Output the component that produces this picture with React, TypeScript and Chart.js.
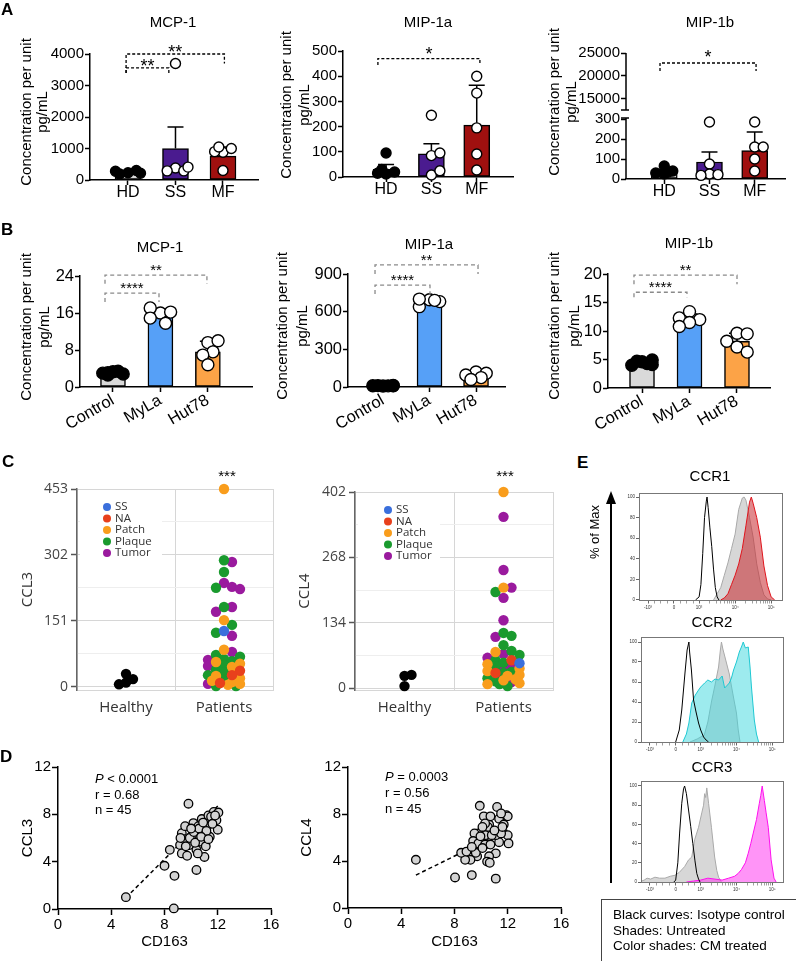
import React, { useEffect, useRef } from 'react';
import { Chart, registerables } from 'chart.js';

Chart.register(...registerables);

const ARIAL = '"Liberation Sans", Arial, Helvetica, sans-serif';
const OPEN = '"Open Sans", "Noto Sans", sans-serif';
Chart.defaults.font.family = ARIAL;
Chart.defaults.color = '#000';

// ================= DATA =================
// Panel A
const A_CATS = ['HD', 'SS', 'MF'];
const A_MCP1_HD = [230, 300, 190, 280, 215];
const A_MCP1_SS = [380, 290, 3700, 290, 410];
const A_MCP1_MF = [880, 1000, 300, 900, 1050];
const A_MCP1_MEAN = [245, 1000, 760];
const A_MCP1_SD = [45, 680, 290];
const A_MIP1A_HD = [12, 20, 95, 15, 30];
const A_MIP1A_SS = [85, 8, 245, 25, 95];
const A_MIP1A_MF = [400, 333, 195, 91, 28];
const A_MIP1A_MEAN = [30, 92, 206];
const A_MIP1A_SD = [20, 40, 158];
const A_MIP1B_HD = [65, 40, 30, 25, 35];
const A_MIP1B_SS = [285, 75, 25, 22, 18];
const A_MIP1B_MF = [285, 160, 160, 100, 40];
const A_MIP1B_MEAN = [35, 85, 142];
const A_MIP1B_SD = [12, 50, 93];
const A_MCP1_SIG = [
  { from: 0.96, to: 3.03, y: 4000, dropL: 3400, dropR: 3700, label: '**' },
  { from: 0.96, to: 1.86, y: 3560, dropL: 3400, dropR: 3400, label: '**' },
];
const A_MIP1A_SIG = [{ from: 0.82, to: 3.07, y: 470, dropL: 444, dropR: 444, label: '*' }];
const A_MIP1B_SIG = [{ from: 0.906, to: 3.03, y: 22830, dropL: 21087, dropR: 21087, label: '*' }];

// Panel B
const B_CATS = ['Control', 'MyLa', 'Hut78'];
const B_MCP1_CTRL = [3.3, 2.8, 3.0, 3.4, 2.6, 3.1];
const B_MCP1_MYLA = [16.0, 16.2, 17.1, 14.9, 13.8];
const B_MCP1_HUT = [9.6, 10.0, 7.6, 6.9, 4.8];
const B_MCP1_MEAN = [3.0, 15.6, 7.6];
const B_MCP1_SD = [0.3, 1.3, 2.3];
const B_MIP1A_CTRL = [8, 12, 10, 9, 11, 10];
const B_MIP1A_MYLA = [695, 680, 640, 700, 690];
const B_MIP1A_HUT = [120, 110, 95, 75, 60];
const B_MIP1A_MEAN = [10, 681, 92];
const B_MIP1A_SD = [2, 24, 24];
const B_MIP1B_CTRL = [4.6, 4.9, 4.0, 4.3, 4.7, 4.1];
const B_MIP1B_MYLA = [13.4, 12.0, 12.3, 11.5, 10.8];
const B_MIP1B_HUT = [9.6, 9.5, 8.2, 7.2, 6.3];
const B_MIP1B_MEAN = [4.4, 12.0, 8.2];
const B_MIP1B_SD = [0.3, 1.0, 1.4];
const B_MCP1_SIG = [
  { from: 0.832, to: 2.98, y: 24.2, dropL: 22.3, dropR: 22.3, label: '**' },
  { from: 0.832, to: 1.97, y: 20.3, dropL: 18.4, dropR: 18.4, label: '****' },
];
const B_MIP1A_SIG = [
  { from: 0.828, to: 3.043, y: 972, dropL: 900, dropR: 900, label: '**' },
  { from: 0.828, to: 2.01, y: 812, dropL: 741, dropR: 741, label: '****' },
];
const B_MIP1B_SIG = [
  { from: 0.831, to: 3.0, y: 19.8, dropL: 18.2, dropR: 18.2, label: '**' },
  { from: 0.831, to: 1.947, y: 16.8, dropL: 15.9, dropR: 15.9, label: '****' },
];

// Panel C
const C_CATS = ['Healthy', 'Patients'];
const C_GROUPS = ['SS', 'NA', 'Patch', 'Plaque', 'Tumor'];
const CCL3_TICKS = [0, 151, 302, 453];
const CCL3_HEALTHY = [30, 18, 10, 6];
const CCL3_SS = [128];
const CCL3_NA = [27, 9, 37];
const CCL3_PATCH = [453, 153, 85, 57, 53, 46, 25, 14, 7, 5, 20, 11];
const CCL3_PLAQUE = [290, 263, 227, 183, 142, 124, 73, 69, 59, 64, 50, 39, 34, 16, 2, 2, 27];
const CCL3_TUMOR = [286, 238, 224, 229, 183, 172, 117, 80, 62, 48, 7];
const CCL4_TICKS = [0, 134, 268, 402];
const CCL4_HEALTHY = [25, 27, 4];
const CCL4_SS = [51];
const CCL4_NA = [57, 31];
const CCL4_PATCH = [402, 206, 74, 49, 35, 25, 16, 10, 8, 27, 18, 40];
const CCL4_PLAQUE = [197, 107, 113, 76, 57, 45, 31, 33, 14, 8, 4, 68, 20, 52, 88];
const CCL4_TUMOR = [351, 242, 185, 139, 206, 105, 62, 41, 47, 25, 70, 12];

// Panel D
const D1_CD163 = [5.1, 8.0, 8.4, 8.75, 8.7, 9.8, 9.3, 9.55, 9.17, 9.3, 9.7, 9.87, 10.05, 10.17, 10.4, 10.4, 10.55, 10.7, 10.8, 10.9, 11.0, 11.1, 11.2, 11.3, 11.4, 11.7, 12.05, 11.9, 12.0, 9.5, 9.9, 10.2, 10.6, 10.9, 11.15, 11.5, 10.3, 9.6, 10.75, 11.3, 11.6, 10.0, 9.2, 10.5, 11.8];
const D1_CCL3 = [1.0, 3.65, 5.0, 2.8, 0.05, 8.9, 6.4, 7.0, 5.4, 4.7, 4.5, 5.4, 6.2, 7.26, 5.0, 3.3, 7.0, 5.7, 7.6, 6.3, 4.4, 5.3, 7.0, 7.9, 6.1, 8.2, 8.15, 7.5, 6.7, 5.9, 6.0, 6.5, 6.8, 7.3, 6.6, 7.8, 5.6, 5.3, 6.1, 5.9, 7.2, 6.8, 6.0, 4.7, 7.9];
const D1_FIT_X = [5.1, 12.0];
const D1_FIT_Y = [0.95, 8.7];
const D2_CD163 = [5.1, 8.04, 9.3, 11.1, 9.9, 11.2, 10.2, 10.6, 11.35, 11.9, 12.0, 11.7, 12.0, 12.06, 11.35, 11.1, 10.5, 10.3, 9.8, 9.5, 9.4, 9.8, 10.3, 10.7, 11.1, 10.6, 10.45, 9.7, 9.6, 9.2, 8.8, 8.5, 8.9, 10.65, 10.1, 10.8, 11.5, 11.6, 11.0, 10.3, 10.7, 10.1, 9.3, 9.95, 11.5];
const D2_CCL4 = [4.1, 2.6, 2.8, 2.5, 8.7, 8.6, 7.8, 7.1, 7.6, 7.9, 7.8, 7.1, 6.2, 5.5, 5.6, 6.2, 6.9, 6.2, 6.35, 6.35, 5.7, 5.5, 5.4, 5.4, 4.65, 4.4, 3.95, 4.4, 4.7, 4.1, 4.1, 4.7, 4.8, 3.85, 5.1, 6.2, 6.35, 6.9, 6.6, 7.2, 7.8, 6.9, 5.2, 6.1, 8.05];
const D2_FIT_X = [5.1, 12.0];
const D2_FIT_Y = [2.8, 6.65];

// Panel E (x in display decades of the biexponential axis)
const EX_MAJOR = [1.58, 2.3, 3, 4, 5];
const EX_LABELS = ['-10³', '0', '10³', '10⁴', '10⁵'];
const CCR1_ISO_X = [2.9, 3.0, 3.05, 3.1, 3.15, 3.2, 3.22, 3.25, 3.3, 3.35, 3.4, 3.45, 3.5, 3.55];
const CCR1_ISO_Y = [0, 3, 15, 45, 80, 96, 100, 90, 70, 52, 30, 12, 3, 0];
const CCR1_UNT_X = [3.4, 3.5, 3.6, 3.7, 3.8, 3.9, 4.0, 4.1, 4.2, 4.25, 4.3, 4.4, 4.5, 4.6, 4.7, 4.8, 4.9, 5.0];
const CCR1_UNT_Y = [0, 6, 12, 24, 36, 50, 64, 88, 99, 100, 97, 80, 61, 35, 17, 5, 1, 0];
const CCR1_CM_X = [3.6, 3.7, 3.8, 3.9, 4.0, 4.1, 4.2, 4.3, 4.4, 4.45, 4.5, 4.6, 4.7, 4.8, 4.9, 5.0, 5.1];
const CCR1_CM_Y = [0, 2, 6, 15, 24, 35, 50, 72, 95, 100, 94, 80, 61, 33, 14, 3, 0];
const CCR2_ISO_X = [2.3, 2.4, 2.47, 2.56, 2.62, 2.67, 2.69, 2.74, 2.8, 2.87, 2.94, 3.0, 3.08, 3.15, 3.22];
const CCR2_ISO_Y = [0, 12, 32, 69, 92, 100, 90, 72, 42, 30, 19, 12, 5, 2, 0];
const CCR2_UNT_X = [2.7, 2.9, 3.1, 3.2, 3.3, 3.4, 3.5, 3.55, 3.58, 3.62, 3.7, 3.8, 3.9, 4.0, 4.05, 4.1];
const CCR2_UNT_Y = [0, 3, 7, 20, 40, 57, 75, 92, 100, 93, 82, 68, 48, 29, 12, 0];
const CCR2_CM_X = [2.5, 2.6, 2.67, 2.75, 2.85, 2.94, 3.0, 3.11, 3.2, 3.3, 3.4, 3.5, 3.6, 3.67, 3.75, 3.8, 3.86, 3.92, 4.0, 4.08, 4.15, 4.19, 4.25, 4.33, 4.38, 4.42, 4.5, 4.56, 4.62];
const CCR2_CM_Y = [0, 8, 19, 39, 47, 52, 55, 59, 62, 60, 63, 62, 66, 54, 57, 59, 64, 72, 80, 90, 96, 100, 94, 95, 75, 55, 22, 8, 0];
const CCR3_ISO_X = [2.25, 2.3, 2.36, 2.41, 2.47, 2.52, 2.55, 2.6, 2.66, 2.72, 2.78, 2.84, 2.89, 2.94, 2.98];
const CCR3_ISO_Y = [0, 2, 20, 51, 82, 97, 100, 92, 75, 58, 40, 22, 9, 3, 0];
const CCR3_UNT_X = [1.35, 1.42, 1.5, 1.6, 1.72, 1.85, 2.0, 2.15, 2.28, 2.4, 2.55, 2.66, 2.75, 2.83, 2.94, 3.03, 3.08, 3.11, 3.14, 3.17, 3.22, 3.3, 3.39, 3.45, 3.5, 3.58];
const CCR3_UNT_Y = [1, 2, 4, 3, 5, 4, 4, 6, 7, 10, 16, 23, 26, 44, 57, 72, 80, 92, 88, 98, 82, 57, 26, 12, 5, 0];
const CCR3_CM_X = [2.6, 2.8, 3.0, 3.2, 3.4, 3.6, 3.78, 3.95, 4.05, 4.14, 4.25, 4.33, 4.4, 4.47, 4.56, 4.64, 4.68, 4.72, 4.78, 4.83, 4.89, 4.97, 5.05, 5.11];
const CCR3_CM_Y = [0, 1, 2, 4, 3, 2, 4, 6, 9, 13, 20, 30, 40, 51, 65, 82, 90, 100, 85, 72, 57, 23, 4, 0];

// ================= STYLE =================
const A_COLORS = ['#d9d9d9', '#4a1b8f', '#a0100f'];
const B_COLORS = ['#d9d9d9', '#56a0f7', '#fca347'];
const C_COLORS = ['#3a6fdc', '#e8401c', '#f99d1c', '#1a9a2e', '#9a1a9e'];

// ================= HELPERS =================
type Box = { x: number; y: number; w: number; h: number };
type Plot = { l: number; t: number; r: number; b: number };

function frameOpts(box: Box, plot: Plot) {
  return {
    padding: { left: 0, top: plot.t - box.y, right: box.x + box.w - plot.r, bottom: 0 },
    yWidth: plot.l - box.x,
    xHeight: box.y + box.h - plot.b,
  };
}

function baseOptions(f: any) {
  return {
    responsive: false,
    animation: false,
    events: [],
    devicePixelRatio: 1,
    layout: { padding: f.padding },
    plugins: { legend: { display: false }, tooltip: { enabled: false }, title: { display: false } },
  };
}

const plainNum = (v: number) => String(v);

// simple beeswarm: returns x offsets (in x units) so dots do not pile up
function swarm(values: number[], pxY: number, pxX: number, minDist: number, maxOffPx: number) {
  const placed: { x: number; y: number }[] = [];
  const out: number[] = [];
  const step = minDist / 2;
  for (const v of values) {
    const y = v * pxY;
    let best = 0;
    let bestScore = -1;
    for (let k = 0; k <= 60; k++) {
      const cand = (k % 2 === 1 ? 1 : -1) * Math.ceil(k / 2) * step;
      if (Math.abs(cand) > maxOffPx) break;
      let minD = Infinity;
      for (const p of placed) minD = Math.min(minD, Math.hypot(p.x - cand, p.y - y));
      if (minD >= minDist) { best = cand; break; }
      if (minD > bestScore) { bestScore = minD; best = cand; }
    }
    placed.push({ x: best, y });
    out.push(best / pxX);
  }
  return out;
}

function textsPlugin(items: any[], box: Box) {
  return {
    id: 'pageTexts',
    afterDraw(chart: any) {
      const ctx = chart.ctx;
      for (const it of items) {
        ctx.save();
        ctx.translate(it.x - box.x, it.y - box.y);
        if (it.rot) ctx.rotate(it.rot);
        ctx.fillStyle = it.color || '#000';
        ctx.textBaseline = 'middle';
        if (it.parts) {
          ctx.textAlign = 'left';
          let cx = 0;
          for (const p of it.parts) {
            ctx.font = p.font;
            ctx.fillText(p.text, cx, 0);
            cx += ctx.measureText(p.text).width;
          }
        } else {
          ctx.font = it.font || `15px ${ARIAL}`;
          ctx.textAlign = it.align || 'center';
          ctx.fillText(it.text, 0, 0);
        }
        ctx.restore();
      }
    },
  };
}

function bracketsPlugin(items: any[], st: any) {
  return {
    id: 'brackets',
    afterDatasetsDraw(chart: any) {
      const xs = chart.scales.x;
      const ys = chart.scales[st.yAxis];
      const ctx = chart.ctx;
      ctx.save();
      for (const b of items) {
        const x1 = xs.getPixelForValue(b.from);
        const x2 = xs.getPixelForValue(b.to);
        const y = ys.getPixelForValue(b.y);
        const yl = ys.getPixelForValue(b.dropL);
        const yr = ys.getPixelForValue(b.dropR);
        ctx.strokeStyle = st.color;
        ctx.lineWidth = st.width;
        ctx.setLineDash(st.dash);
        ctx.beginPath();
        ctx.moveTo(x1, yl);
        ctx.lineTo(x1, y);
        ctx.lineTo(x2, y);
        ctx.lineTo(x2, yr);
        ctx.stroke();
        ctx.setLineDash([]);
        ctx.fillStyle = '#000';
        ctx.font = st.font;
        ctx.textAlign = 'center';
        ctx.textBaseline = 'alphabetic';
        ctx.fillText(b.label, (x1 + x2) / 2, y + st.dy);
      }
      ctx.restore();
    },
  };
}

function errorBarsPlugin(means: number[], sds: number[], cap: number) {
  return {
    id: 'errorBars',
    beforeDatasetsDraw(chart: any) {
      const xs = chart.scales.x;
      const ys = chart.scales.y;
      const ctx = chart.ctx;
      ctx.save();
      ctx.strokeStyle = '#000';
      ctx.lineWidth = 1.5;
      means.forEach((m, i) => {
        const x = xs.getPixelForValue(i + 1);
        const y0 = ys.getPixelForValue(m);
        const y1 = ys.getPixelForValue(m + sds[i]);
        ctx.beginPath();
        ctx.moveTo(x, y0);
        ctx.lineTo(x, y1);
        ctx.moveTo(x - cap, y1);
        ctx.lineTo(x + cap, y1);
        ctx.stroke();
      });
      ctx.restore();
    },
  };
}

function axisBreakPlugin(segs: any[]) {
  return {
    id: 'axisBreak',
    afterDraw(chart: any) {
      const ctx = chart.ctx;
      const x = chart.chartArea.left;
      ctx.save();
      ctx.strokeStyle = '#000';
      ctx.lineWidth = 1.5;
      for (const s of segs) {
        const sc = chart.scales[s.axis];
        const y1 = sc.getPixelForValue(s.from);
        const y2 = sc.getPixelForValue(s.to);
        ctx.beginPath();
        ctx.moveTo(x, y1);
        ctx.lineTo(x, y2);
        if (s.capAt !== undefined) {
          const yc = sc.getPixelForValue(s.capAt);
          ctx.moveTo(x - 5, yc);
          ctx.lineTo(x + 3, yc);
        }
        ctx.stroke();
      }
      ctx.restore();
    },
  };
}

function innerLegendPlugin(labels: string[], colors: string[], o: any) {
  return {
    id: 'innerLegend',
    afterDatasetsDraw(chart: any) {
      const ctx = chart.ctx;
      const { left, top } = chart.chartArea;
      ctx.save();
      ctx.fillStyle = '#fff';
      ctx.fillRect(left + 3, top + 8, 82, 62);
      labels.forEach((lab, i) => {
        const cx = left + o.dx;
        const cy = top + o.dy + i * o.step;
        ctx.beginPath();
        ctx.arc(cx, cy, 4, 0, Math.PI * 2);
        ctx.fillStyle = colors[i];
        ctx.fill();
        ctx.fillStyle = '#333';
        ctx.font = `11.5px ${OPEN}`;
        ctx.textAlign = 'left';
        ctx.textBaseline = 'middle';
        ctx.fillText(lab, cx + 8, cy);
      });
      ctx.restore();
    },
  };
}

const framePlugin = {
  id: 'frame',
  afterDraw(chart: any) {
    const { left, top, right, bottom } = chart.chartArea;
    const ctx = chart.ctx;
    ctx.save();
    ctx.strokeStyle = '#777';
    ctx.lineWidth = 1;
    ctx.strokeRect(left + 0.5, top + 0.5, right - left - 1, bottom - top - 1);
    ctx.restore();
  },
};

// ================= BUILDERS =================
function barChart(s: any) {
  const f = frameOpts(s.box, s.plot);
  const plotW = s.plot.r - s.plot.l;
  const plotH = s.plot.b - s.plot.t;
  const pxX = plotW / (s.xMax - s.xMin);
  const pxY = s.broken ? s.broken.lowPx / s.broken.lowMax : plotH / (s.yMax - s.yMin);
  const datasets: any[] = [
    {
      type: 'bar',
      yAxisID: 'y',
      data: s.means.map((m: number, i: number) => ({ x: i + 1, y: m })),
      backgroundColor: s.colors,
      borderColor: '#000',
      borderWidth: 1.5,
      borderSkipped: false,
      barThickness: s.barW,
      order: 3,
    },
  ];
  s.groups.forEach((g: number[], gi: number) => {
    const offs = swarm(g, pxY, pxX, s.dotR * 1.7, s.barW * 0.5);
    datasets.push({
      type: 'scatter',
      yAxisID: 'y',
      clip: false,
      order: 1,
      data: g.map((v, j) => ({ x: gi + 1 + offs[j], y: v })),
      pointRadius: s.dotR,
      pointBackgroundColor: s.dotFills[gi],
      pointBorderColor: '#000',
      pointBorderWidth: 1.4,
    });
  });
  const yTickFont = { family: ARIAL, size: s.yTickSize };
  const yTicks = { font: yTickFont, color: '#000', padding: 1, autoSkip: false, callback: plainNum };
  const gridY = { drawOnChartArea: false, drawTicks: true, tickLength: 5, tickColor: '#000', tickWidth: 1.5 };
  const fitY = (sc: any) => { sc.width = f.yWidth; };
  const scales: any = {
    x: {
      type: 'linear',
      min: s.xMin,
      max: s.xMax,
      offset: false,
      afterBuildTicks: (sc: any) => { sc.ticks = s.cats.map((_: string, i: number) => ({ value: i + 1 })); },
      ticks: {
        callback: (v: number) => s.cats[Math.round(v) - 1] ?? '',
        font: { family: ARIAL, size: s.xTickSize, lineHeight: 1 },
        color: '#000',
        padding: 0,
        autoSkip: false,
        maxRotation: s.rotate,
        minRotation: s.rotate,
      },
      grid: { drawOnChartArea: false, offset: false, tickLength: 5, tickColor: '#000', tickWidth: 1.5 },
      border: { color: '#000', width: 1.5 },
      afterFit: (sc: any) => { sc.height = f.xHeight; },
    },
  };
  if (!s.broken) {
    scales.y = {
      type: 'linear',
      min: s.yMin,
      max: s.yMax,
      ticks: { ...yTicks, stepSize: s.yStep },
      grid: gridY,
      border: { color: '#000', width: 1.5 },
      afterFit: fitY,
    };
  } else {
    const b = s.broken;
    scales.y = {
      type: 'linear', position: 'left', stack: 'brk', stackWeight: b.lowPx,
      min: 0, max: b.lowMax,
      afterBuildTicks: (sc: any) => { sc.ticks = b.lowTicks.map((value: number) => ({ value })); },
      ticks: yTicks,
      grid: gridY, border: { display: false }, afterFit: fitY,
    };
    scales.y2 = {
      type: 'linear', position: 'left', stack: 'brk', stackWeight: b.upPx,
      min: b.upMin, max: b.upMax,
      afterBuildTicks: (sc: any) => { sc.ticks = b.upTicks.map((value: number) => ({ value })); },
      ticks: yTicks,
      grid: gridY, border: { display: false }, afterFit: fitY,
    };
  }
  const texts = [
    { text: s.title, x: s.titleX, y: s.titleY, font: `15px ${ARIAL}` },
    { text: 'Concentration per unit', x: s.yTitle[0], y: s.yTitle[2], rot: -Math.PI / 2, font: `15px ${ARIAL}` },
    { text: 'pg/mL', x: s.yTitle[1], y: s.yTitle[2], rot: -Math.PI / 2, font: `15px ${ARIAL}` },
  ];
  const plugins: any[] = [
    errorBarsPlugin(s.means, s.sds, 8),
    bracketsPlugin(s.brackets, { yAxis: s.broken ? 'y2' : 'y', color: s.bracketColor, width: 1.3, dash: s.bracketDash, font: s.starFont, dy: s.starDy }),
    textsPlugin(texts, s.box),
  ];
  if (s.broken) {
    plugins.push(axisBreakPlugin([
      { axis: 'y', from: 0, to: s.broken.lowTop, capAt: s.broken.lowTop },
      { axis: 'y2', from: s.broken.upMin, to: s.broken.upMax, capAt: s.broken.upMin },
    ]));
  }
  return {
    box: s.box,
    make: () => ({
      type: 'bar',
      data: { datasets },
      options: { ...baseOptions(f), scales },
      plugins,
    }),
  };
}

function stripChart(s: any) {
  const f = frameOpts(s.box, s.plot);
  const pxY = (s.plot.b - s.plot.t) / (s.yMax - s.yMin);
  const pxX = (s.plot.r - s.plot.l) / 2;
  const all: { v: number; g: number }[] = [];
  s.groups.forEach((arr: number[], gi: number) => arr.forEach((v) => all.push({ v, g: gi })));
  all.sort((a, b) => b.v - a.v);
  const offs = swarm(all.map((a) => a.v), pxY, pxX, 8, 16);
  const datasets: any[] = C_GROUPS.map((lab, gi) => ({
    type: 'scatter', label: lab, data: [] as any[], clip: false,
    pointRadius: 5.2, pointBackgroundColor: C_COLORS[gi], pointBorderWidth: 0,
  }));
  all.forEach((a, i) => datasets[a.g].data.push({ x: 1.5 + offs[i], y: a.v }));
  const hOffs = swarm(s.healthy, pxY, pxX, 7, 8);
  datasets.push({
    type: 'scatter', label: 'Healthy', clip: false,
    data: s.healthy.map((v: number, i: number) => ({ x: 0.5 + hOffs[i], y: v })),
    pointRadius: 5.2, pointBackgroundColor: '#000', pointBorderWidth: 0,
  });
  const majors: number[] = s.majors;
  const step = majors[1] / 2;
  const allTicks: number[] = [];
  for (let v = 0; v <= majors[majors.length - 1] + 1e-6; v += step) allTicks.push(Math.round(v * 10) / 10);
  const isMajor = (v: number) => majors.some((m) => Math.abs(m - v) < 1e-6);
  const scales: any = {
    x: {
      type: 'linear', min: 0, max: 2,
      afterBuildTicks: (sc: any) => { sc.ticks = [0, 0.5, 1, 1.5, 2].map((value) => ({ value })); },
      ticks: {
        callback: (v: number) => (v === 0.5 ? C_CATS[0] : v === 1.5 ? C_CATS[1] : ''),
        font: { family: OPEN, size: 15, lineHeight: 1.2 }, color: '#333', padding: 9, autoSkip: false, maxRotation: 0,
      },
      grid: { color: (c: any) => (c.tick && c.tick.value % 1 === 0 ? '#d6d6d6' : 'rgba(0,0,0,0)'), drawTicks: false, lineWidth: 1 },
      border: { color: '#d6d6d6', width: 1 },
      afterFit: (sc: any) => { sc.height = f.xHeight; },
    },
    y: {
      type: 'linear', min: s.yMin, max: s.yMax,
      afterBuildTicks: (sc: any) => { sc.ticks = allTicks.map((value) => ({ value })); },
      ticks: { callback: (v: number) => (isMajor(v) ? String(v) : ''), font: { family: OPEN, size: 14 }, color: '#444', padding: 3, autoSkip: false },
      grid: {
        color: (c: any) => (c.tick && isMajor(c.tick.value) ? '#d6d6d6' : '#eeeeee'),
        tickColor: (c: any) => (c.tick && isMajor(c.tick.value) ? '#555' : 'rgba(0,0,0,0)'),
        tickLength: 6, tickWidth: 1.5, lineWidth: 1,
      },
      border: { color: '#666', width: 1.5 },
      title: { display: true, text: s.yTitle, font: { family: OPEN, size: 15 }, color: '#333', padding: { top: s.yTitlePad, bottom: 0 } },
      afterFit: (sc: any) => { sc.width = f.yWidth; },
    },
  };
  const plugins = [
    innerLegendPlugin(C_GROUPS, C_COLORS, { dx: s.legend.dx, dy: s.legend.dy, step: 11.5 }),
    textsPlugin([{ text: '***', x: s.star.x, y: s.star.y, font: `15px ${ARIAL}` }], s.box),
  ];
  return {
    box: s.box,
    make: () => ({ type: 'scatter', data: { datasets }, options: { ...baseOptions(f), scales }, plugins }),
  };
}

function corrChart(s: any) {
  const f = frameOpts(s.box, s.plot);
  const datasets: any[] = [
    {
      type: 'line', order: 2,
      data: s.fitX.map((x: number, i: number) => ({ x, y: s.fitY[i] })),
      borderColor: '#000', borderWidth: 1.5, borderDash: [4, 3], pointRadius: 0, fill: false,
    },
    {
      type: 'scatter', order: 1, clip: false,
      data: s.xs.map((x: number, i: number) => ({ x, y: s.ys[i] })),
      pointRadius: 4.3, pointBackgroundColor: '#d3d3d3', pointBorderColor: '#000', pointBorderWidth: 1.3,
    },
  ];
  const tickFont = { family: ARIAL, size: 15, lineHeight: 1.2 };
  const grid = { drawOnChartArea: false, tickLength: 6, tickColor: '#000', tickWidth: 1.5 };
  const scales: any = {
    x: {
      type: 'linear', min: 0, max: 16,
      ticks: { stepSize: 4, font: tickFont, color: '#000', padding: 1, autoSkip: false },
      grid, border: { color: '#000', width: 1.5 },
      title: { display: true, text: 'CD163', font: { family: ARIAL, size: 15 }, color: '#000', padding: { top: 0, bottom: 10 } },
      afterFit: (sc: any) => { sc.height = f.xHeight; },
    },
    y: {
      type: 'linear', min: 0, max: 12,
      ticks: { stepSize: 4, font: tickFont, color: '#000', padding: 1, autoSkip: false },
      grid, border: { color: '#000', width: 1.5 },
      title: { display: true, text: s.yTitle, font: { family: ARIAL, size: 15 }, color: '#000', padding: { top: s.yTitlePad, bottom: 0 } },
      afterFit: (sc: any) => { sc.width = f.yWidth; },
    },
  };
  const F = `13px ${ARIAL}`;
  const texts = [
    { parts: [{ text: 'P', font: `italic 13px ${ARIAL}` }, { text: s.pText, font: F }], x: s.statX, y: s.statY[0] },
    { text: s.rText, x: s.statX, y: s.statY[1], font: F, align: 'left' },
    { text: 'n = 45', x: s.statX, y: s.statY[2], font: F, align: 'left' },
  ];
  return {
    box: s.box,
    make: () => ({ type: 'scatter', data: { datasets }, options: { ...baseOptions(f), scales }, plugins: [textsPlugin(texts, s.box)] }),
  };
}

function histChart(s: any) {
  const f = frameOpts(s.box, s.plot);
  const pts = (xs: number[], ys: number[]) => xs.map((x, i) => ({ x, y: ys[i] }));
  const datasets: any[] = [
    { data: pts(s.isoX, s.isoY), borderColor: '#000', borderWidth: 1, pointRadius: 0, fill: false, order: 0 },
    { data: pts(s.cmX, s.cmY), borderColor: s.cmLine, backgroundColor: s.cmFill, borderWidth: 1, pointRadius: 0, fill: 'origin', order: 1 },
    { data: pts(s.untX, s.untY), borderColor: '#a9a9a9', backgroundColor: 'rgba(175,175,175,0.5)', borderWidth: 1, pointRadius: 0, fill: 'origin', order: 2 },
  ];
  const minors: number[] = [1.76, 1.94, 2.12, 2.48, 2.66, 2.84];
  [3, 4].forEach((d) => [2, 3, 4, 5, 6, 7, 8, 9].forEach((k) => minors.push(d + Math.log10(k))));
  const xTicks = [...EX_MAJOR, ...minors].sort((a, b) => a - b);
  const small = { family: ARIAL, size: 4.5, lineHeight: 1.2 };
  const scales: any = {
    x: {
      type: 'linear', min: 1.33, max: 5.33,
      afterBuildTicks: (sc: any) => { sc.ticks = xTicks.map((value) => ({ value })); },
      ticks: { callback: (v: number) => { const i = EX_MAJOR.indexOf(v); return i >= 0 ? EX_LABELS[i] : ''; }, font: small, color: '#333', padding: 2, autoSkip: false, maxRotation: 0 },
      grid: { drawOnChartArea: false, tickLength: 2.5, tickWidth: 0.7, tickColor: (c: any) => (c.tick && EX_MAJOR.includes(c.tick.value) ? '#222' : '#777') },
      border: { display: false },
      afterFit: (sc: any) => { sc.height = f.xHeight; },
    },
    y: {
      type: 'linear', min: s.yMin, max: s.yMax,
      afterBuildTicks: (sc: any) => { sc.ticks = [0, 20, 40, 60, 80, 100].map((value) => ({ value })); },
      ticks: { font: small, color: '#333', padding: 1, autoSkip: false },
      grid: { drawOnChartArea: false, tickLength: 3, tickWidth: 0.7, tickColor: '#222' },
      border: { display: false },
      afterFit: (sc: any) => { sc.width = f.yWidth; },
    },
  };
  return {
    box: s.box,
    make: () => ({
      type: 'line',
      data: { datasets },
      options: { ...baseOptions(f), scales, elements: { line: { tension: 0 } } },
      plugins: [framePlugin, textsPlugin([{ text: s.title, x: s.titleX, y: s.titleY, font: `15px ${ARIAL}` }], s.box)],
    }),
  };
}

// ================= CHART LIST =================
const A_COMMON = { cats: A_CATS, colors: A_COLORS, dotFills: ['#000', '#fff', '#fff'], bracketColor: '#000', bracketDash: [3, 2], starFont: `18px ${ARIAL}`, rotate: 0, dotR: 5, barW: 26, yMin: 0, yTickSize: 15, xTickSize: 16 };
const B_COMMON = { cats: B_CATS, colors: B_COLORS, dotFills: ['#000', '#fff', '#fff'], bracketColor: '#8a8a8a', bracketDash: [4, 3], starFont: `15px ${ARIAL}`, starDy: 0, rotate: 30, dotR: 6, barW: 25, yMin: 0, yTickSize: 16.5, xTickSize: 16.5 };

const CHARTS = [
  barChart({ ...A_COMMON, box: { x: 0, y: 0, w: 265, h: 205 }, plot: { l: 90, t: 54, r: 262, b: 180 }, xMin: 0.2, xMax: 3.75, means: A_MCP1_MEAN, sds: A_MCP1_SD, groups: [A_MCP1_HD, A_MCP1_SS, A_MCP1_MF], yMax: 4000, yStep: 1000, brackets: A_MCP1_SIG, starDy: 4, title: 'MCP-1', titleX: 173, titleY: 23, yTitle: [27, 43, 112] }),
  barChart({ ...A_COMMON, box: { x: 265, y: 0, w: 255, h: 205 }, plot: { l: 343, t: 51, r: 513, b: 177 }, xMin: 0.05, xMax: 3.8, means: A_MIP1A_MEAN, sds: A_MIP1A_SD, groups: [A_MIP1A_HD, A_MIP1A_SS, A_MIP1A_MF], yMax: 500, yStep: 100, brackets: A_MIP1A_SIG, starDy: 1, title: 'MIP-1a', titleX: 428, titleY: 23, yTitle: [287, 305, 105] }),
  barChart({ ...A_COMMON, box: { x: 520, y: 0, w: 276, h: 205 }, plot: { l: 626, t: 53, r: 785, b: 179 }, xMin: 0.154, xMax: 3.67, means: A_MIP1B_MEAN, sds: A_MIP1B_SD, groups: [A_MIP1B_HD, A_MIP1B_SS, A_MIP1B_MF], broken: { lowMax: 345, lowTop: 305, lowTicks: [0, 100, 200, 300], lowPx: 69, upMin: 12600, upMax: 25000, upTicks: [15000, 20000, 25000], upPx: 57 }, brackets: A_MIP1B_SIG, starDy: 0, title: 'MIP-1b', titleX: 710, titleY: 23, yTitle: [555, 572, 102] }),
  barChart({ ...B_COMMON, box: { x: 0, y: 235, w: 265, h: 205 }, plot: { l: 80, t: 276, r: 252, b: 387 }, xMin: 0.305, xMax: 3.93, means: B_MCP1_MEAN, sds: B_MCP1_SD, groups: [B_MCP1_CTRL, B_MCP1_MYLA, B_MCP1_HUT], yMax: 24, yStep: 8, brackets: B_MCP1_SIG, title: 'MCP-1', titleX: 160, titleY: 248, yTitle: [27, 45, 327] }),
  barChart({ ...B_COMMON, box: { x: 265, y: 235, w: 255, h: 205 }, plot: { l: 348, t: 274, r: 505, b: 387 }, xMin: 0.247, xMax: 3.623, means: B_MIP1A_MEAN, sds: B_MIP1A_SD, groups: [B_MIP1A_CTRL, B_MIP1A_MYLA, B_MIP1A_HUT], yMax: 900, yStep: 300, brackets: B_MIP1A_SIG, title: 'MIP-1a', titleX: 429, titleY: 245, yTitle: [283, 303, 326] }),
  barChart({ ...B_COMMON, box: { x: 520, y: 235, w: 276, h: 205 }, plot: { l: 608, t: 274, r: 770, b: 388 }, xMin: 0.284, xMax: 3.695, means: B_MIP1B_MEAN, sds: B_MIP1B_SD, groups: [B_MIP1B_CTRL, B_MIP1B_MYLA, B_MIP1B_HUT], yMax: 20, yStep: 5, brackets: B_MIP1B_SIG, title: 'MIP-1b', titleX: 689, titleY: 244, yTitle: [555, 575, 326] }),
  stripChart({ box: { x: 0, y: 455, w: 290, h: 265 }, plot: { l: 77, t: 489, r: 273, b: 690 }, yMin: -7, yMax: 453, majors: CCL3_TICKS, healthy: CCL3_HEALTHY, groups: [CCL3_SS, CCL3_NA, CCL3_PATCH, CCL3_PLAQUE, CCL3_TUMOR], yTitle: 'CCL3', yTitlePad: 19, legend: { dx: 30, dy: 18 }, star: { x: 227, y: 477 } }),
  stripChart({ box: { x: 290, y: 455, w: 285, h: 265 }, plot: { l: 355, t: 492, r: 553, b: 690 }, yMin: -4, yMax: 402, majors: CCL4_TICKS, healthy: CCL4_HEALTHY, groups: [CCL4_SS, CCL4_NA, CCL4_PATCH, CCL4_PLAQUE, CCL4_TUMOR], yTitle: 'CCL4', yTitlePad: 6, legend: { dx: 33, dy: 18 }, star: { x: 505, y: 477 } }),
  corrChart({ box: { x: 0, y: 745, w: 290, h: 216 }, plot: { l: 58, t: 767, r: 271, b: 909 }, xs: D1_CD163, ys: D1_CCL3, fitX: D1_FIT_X, fitY: D1_FIT_Y, yTitle: 'CCL3', yTitlePad: 19, pText: ' < 0.0001', rText: 'r = 0.68', statX: 95, statY: [779, 795, 810] }),
  corrChart({ box: { x: 290, y: 745, w: 290, h: 216 }, plot: { l: 348, t: 767, r: 561, b: 908 }, xs: D2_CD163, ys: D2_CCL4, fitX: D2_FIT_X, fitY: D2_FIT_Y, yTitle: 'CCL4', yTitlePad: 8, pText: ' = 0.0003', rText: 'r = 0.56', statX: 385, statY: [777, 793, 809] }),
  histChart({ box: { x: 600, y: 465, w: 196, h: 150 }, plot: { l: 639, t: 493, r: 783, b: 601 }, yMin: -1, yMax: 103.9, title: 'CCR1', titleX: 710, titleY: 477, isoX: CCR1_ISO_X, isoY: CCR1_ISO_Y, untX: CCR1_UNT_X, untY: CCR1_UNT_Y, cmX: CCR1_CM_X, cmY: CCR1_CM_Y, cmLine: '#e0141c', cmFill: 'rgba(200,40,45,0.55)' }),
  histChart({ box: { x: 600, y: 612, w: 196, h: 145 }, plot: { l: 641, t: 637, r: 784, b: 743 }, yMin: -1, yMax: 105, title: 'CCR2', titleX: 712, titleY: 623, isoX: CCR2_ISO_X, isoY: CCR2_ISO_Y, untX: CCR2_UNT_X, untY: CCR2_UNT_Y, cmX: CCR2_CM_X, cmY: CCR2_CM_Y, cmLine: '#1ec8d2', cmFill: 'rgba(60,215,222,0.5)' }),
  histChart({ box: { x: 600, y: 757, w: 196, h: 140 }, plot: { l: 641, t: 781, r: 784, b: 883 }, yMin: -1.04, yMax: 105.2, title: 'CCR3', titleX: 712, titleY: 768, isoX: CCR3_ISO_X, isoY: CCR3_ISO_Y, untX: CCR3_UNT_X, untY: CCR3_UNT_Y, cmX: CCR3_CM_X, cmY: CCR3_CM_Y, cmLine: '#ff10ee', cmFill: 'rgba(255,60,240,0.55)' }),
];

const PANEL_LETTERS = [
  { t: 'A', x: 1, y: 1 },
  { t: 'B', x: 1, y: 221 },
  { t: 'C', x: 2, y: 453 },
  { t: 'D', x: 0, y: 748 },
  { t: 'E', x: 577, y: 454 },
];

function ChartBox({ spec }: { spec: any }) {
  const ref = useRef<HTMLCanvasElement | null>(null);
  useEffect(() => {
    if (!ref.current) return;
    const chart = new Chart(ref.current, spec.make());
    return () => chart.destroy();
  }, [spec]);
  const { x, y, w, h } = spec.box;
  return (
    <canvas
      ref={ref}
      width={w}
      height={h}
      style={{ position: 'absolute', left: x, top: y, width: w, height: h }}
    />
  );
}

export default function App() {
  return (
    <div
      style={{
        position: 'absolute', left: 0, top: 0, width: 796, height: 961,
        background: '#fff', overflow: 'hidden', fontFamily: ARIAL, color: '#000',
      }}
    >
      {CHARTS.map((c, i) => (
        <ChartBox key={i} spec={c} />
      ))}
      {PANEL_LETTERS.map((p) => (
        <div key={p.t} style={{ position: 'absolute', left: p.x, top: p.y, fontSize: 17, fontWeight: 'bold', lineHeight: '17px' }}>
          {p.t}
        </div>
      ))}
      <div
        style={{
          position: 'absolute', left: 594, top: 532, fontSize: 13, whiteSpace: 'nowrap',
          transform: 'translate(-50%, -50%) rotate(-90deg)',
        }}
      >
        % of Max
      </div>
      <div style={{ position: 'absolute', left: 610, top: 500, width: 2, height: 383, background: '#000' }} />
      <div
        style={{
          position: 'absolute', left: 606, top: 491, width: 0, height: 0,
          borderLeft: '5px solid transparent', borderRight: '5px solid transparent', borderBottom: '13px solid #000',
        }}
      />
      <div
        style={{
          position: 'absolute', left: 601, top: 899, width: 200, height: 70, boxSizing: 'border-box',
          border: '1px solid #444', padding: '7px 0 0 11px', fontSize: 13.5, lineHeight: '15.5px', whiteSpace: 'nowrap',
        }}
      >
        <div>Black curves: Isotype control</div>
        <div>Shades: Untreated</div>
        <div>Color shades: CM treated</div>
      </div>
    </div>
  );
}
